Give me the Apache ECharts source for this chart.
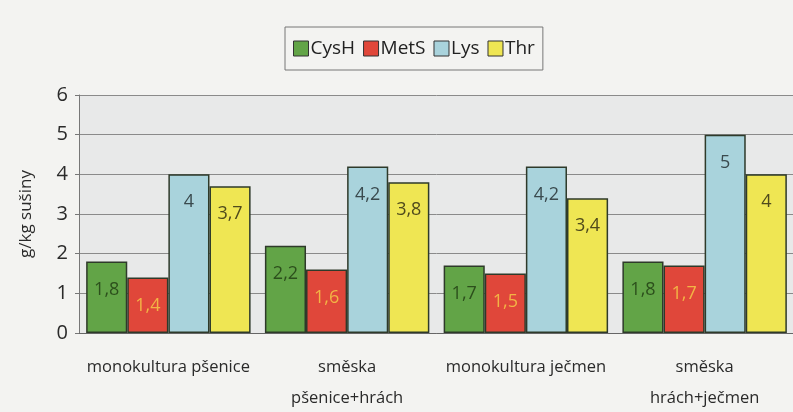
<!DOCTYPE html>
<html>
<head>
<meta charset="utf-8">
<script src="https://cdn.jsdelivr.net/npm/echarts@6/dist/echarts.min.js"></script>
<style>
  html, body { margin: 0; padding: 0; background: #f3f3f1; }
  #chart { width: 793px; height: 412px; }
</style>
</head>
<body>
<div id="chart"></div>
<script>
  const categories = ["monokultura pšenice", "směska\npšenice+hrách", "monokultura ječmen", "směska\nhrách+ječmen"]
  const cysH = [1.8, 2.2, 1.7, 1.8]
  const metS = [1.4, 1.6, 1.5, 1.7]
  const lys = [4, 4.2, 4.2, 5]
  const thr = [3.7, 3.8, 3.4, 4]
  const yTicks = [0, 6, 1]

  const font = "Open Sans"
  const comma = (p) => String(p.value).replace(".", ",")

  function bar(name, data, color, labelColor) {
    return {
      name: name,
      type: "bar",
      data: data,
      barGap: "0%",
      barCategoryGap: "8%",
      itemStyle: { color: color, borderColor: "#2e3a2a", borderWidth: 1.5 },
      label: {
        show: true,
        position: "insideTop",
        distance: 19,
        fontFamily: font,
        fontSize: 18,
        color: labelColor,
        formatter: comma,
      },
    }
  }

  const options = {
    animation: false,
    backgroundColor: "#f3f3f1",
    textStyle: { fontFamily: font },
    legend: {
      top: 27,
      left: 285,
      padding: [12, 8, 12, 8],
      borderColor: "#777",
      borderWidth: 1,
      itemWidth: 15,
      itemHeight: 15,
      itemGap: 8,
      icon: "rect",
      itemStyle: { borderColor: "#333", borderWidth: 1 },
      textStyle: { fontFamily: font, fontSize: 19, color: "#222", padding: [0, 0, 0, -3] },
    },
    grid: {
      left: 79,
      right: -1,
      top: 95,
      bottom: 79,
      outerBoundsMode: "none",
      containLabel: false,
      show: true,
      backgroundColor: "#e8e9e9",
      borderWidth: 0,
    },
    xAxis: {
      type: "category",
      data: categories,
      axisLine: { lineStyle: { color: "#666", width: 1 } },
      axisTick: { length: 5, lineStyle: { color: "#666" } },
      axisLabel: { interval: 0, fontFamily: font, fontSize: 16.5, color: "#2a2a2a", margin: 19, lineHeight: 31 },
    },
    yAxis: {
      type: "value",
      min: yTicks[0],
      max: yTicks[1],
      interval: yTicks[2],
      name: "g/kg sušiny",
      nameLocation: "middle",
      nameGap: 44,
      nameTextStyle: { fontFamily: font, fontSize: 17, color: "#2a2a2a" },
      axisLine: { show: true, lineStyle: { color: "#777" } },
      axisTick: { show: true, length: 4, lineStyle: { color: "#777" } },
      axisLabel: { fontFamily: font, fontSize: 20, color: "#2a2a2a", margin: 11 },
      splitLine: { lineStyle: { color: "#8a8a8a", width: 1 } },
    },
    series: [
      bar("CysH", cysH, "#62a447", "#2c4f1c"),
      bar("MetS", metS, "#e0473a", "#f2b445"),
      bar("Lys", lys, "#a9d3dc", "#3a4a4e"),
      bar("Thr", thr, "#efe653", "#4f4a1c"),
    ],
  }

  const myChart = echarts.init(document.getElementById("chart"))
  myChart.setOption(options)
  window.addEventListener("resize", () => myChart.resize(), false)
</script>
</body>
</html>
